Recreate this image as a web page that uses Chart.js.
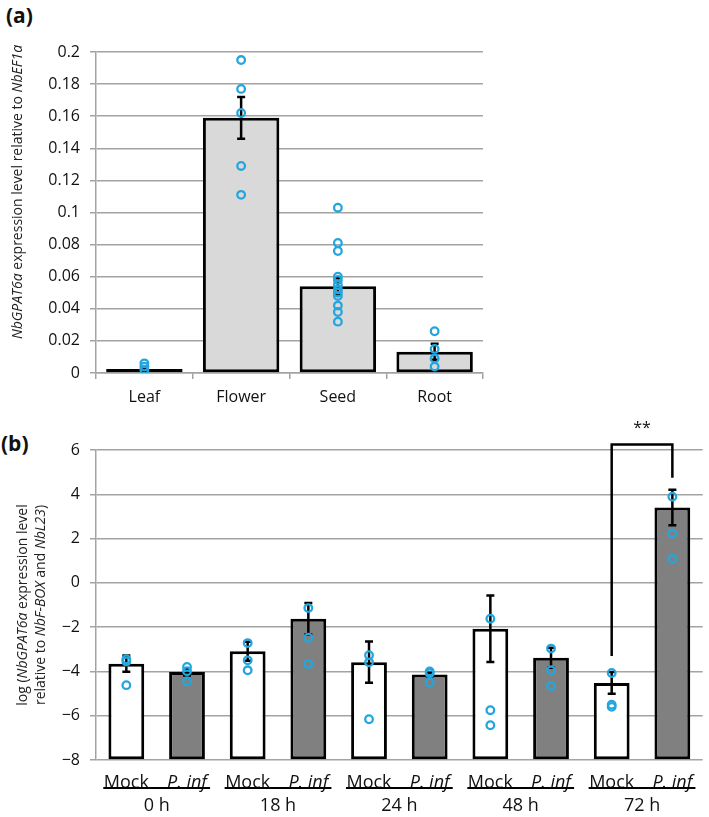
<!DOCTYPE html>
<html>
<head>
<meta charset="utf-8">
<script src="https://cdn.jsdelivr.net/npm/chart.js@4.4.1/dist/chart.umd.min.js"></script>
<style>
  body { margin: 0; background: #fff; width: 709px; height: 817px; position: relative; overflow: hidden; font-family: 'Open Sans', sans-serif; }
  #wrapA { position: absolute; left: 0; top: 0; width: 709px; height: 410px; }
  #wrapB { position: absolute; left: 0; top: 410px; width: 709px; height: 407px; }
  .panel { position: absolute; font-weight: bold; font-size: 21px; line-height: 1; color: #111; }
</style>
</head>
<body>
<div class="panel" style="left:6px;top:5px">(a)</div>
<div class="panel" style="left:1px;top:433px">(b)</div>
<div id="wrapA"><canvas id="chartA" width="709" height="410"></canvas></div>
<div id="wrapB"><canvas id="chartB" width="709" height="407"></canvas></div>
<script>
// panel (a): tissues
const tissues = ['Leaf', 'Flower', 'Seed', 'Root'];
const tissueMeans = [0.0025, 0.159, 0.054, 0.0133];
const tissueErrors = [0.001, 0.013, 0.005, 0.005];
const leafPoints = [0.006, 0.004, 0.002];
const flowerPoints = [0.195, 0.177, 0.162, 0.129, 0.111];
const seedPoints = [0.103, 0.081, 0.076, 0.060, 0.058, 0.055, 0.052, 0.050, 0.048, 0.042, 0.038, 0.032];
const rootPoints = [0.026, 0.015, 0.009, 0.004];

// panel (b): infection time course
const treatments = ['Mock', 'P. inf', 'Mock', 'P. inf', 'Mock', 'P. inf', 'Mock', 'P. inf', 'Mock', 'P. inf'];
const timepoints = ['0 h', '18 h', '24 h', '48 h', '72 h'];
const logMeans = [-3.65, -4.03, -3.09, -1.62, -3.58, -4.14, -2.07, -3.38, -4.52, 3.40];
const logErrors = [0.37, 0.15, 0.43, 0.71, 0.93, 0.08, 1.50, 0.45, 0.49, 0.80];
const logPoints = [
  [-3.45, -3.55, -4.62],
  [-3.80, -3.99, -4.45],
  [-2.72, -3.50, -3.95],
  [-1.14, -2.48, -3.67],
  [-3.27, -3.59, -6.16],
  [-4.00, -4.08, -4.50],
  [-1.62, -5.75, -6.43],
  [-2.97, -3.95, -4.66],
  [-4.07, -5.50, -5.60],
  [3.89, 2.23, 1.08]
];
const sigPair = [8, 9];            // Mock 72 h vs P. inf 72 h
const sigLevels = [-3.3, 6.25, 4.75]; // left foot, bracket top, right foot
const sigLabel = '**';

const FONT = "'Open Sans', sans-serif";
const GRID = '#a3a3a3';
const DOT = '#22a6df';
Chart.defaults.font.family = FONT;
Chart.defaults.color = '#111';

function pointSets(groups) {
  var n = Math.max.apply(null, groups.map(g => g.length));
  var sets = [];
  for (var k = 0; k < n; k++) {
    sets.push({
      type: 'line',
      data: groups.map(g => g[k] === undefined ? null : g[k]),
      showLine: false,
      pointStyle: 'circle',
      pointRadius: 3.8,
      pointBorderWidth: 2.3,
      pointBorderColor: DOT,
      pointBackgroundColor: 'rgba(0,0,0,0)',
      order: 1
    });
  }
  return sets;
}

// draws text made of plain / italic pieces, rotated like an axis title
function richText(ctx, parts, cx, cy, size) {
  ctx.save();
  ctx.translate(cx, cy);
  ctx.rotate(-Math.PI / 2);
  ctx.textBaseline = 'middle';
  ctx.fillStyle = '#222';
  var total = 0;
  parts.forEach(p => { ctx.font = (p[1] ? 'italic ' : '') + size + 'px ' + FONT; total += ctx.measureText(p[0]).width; });
  var x = -total / 2;
  parts.forEach(p => {
    ctx.font = (p[1] ? 'italic ' : '') + size + 'px ' + FONT;
    ctx.fillText(p[0], x, 0);
    x += ctx.measureText(p[0]).width;
  });
  ctx.restore();
}

const errorBars = {
  id: 'errorBars',
  afterDatasetDraw(chart, args, opts) {
    if (args.index !== 0) return;
    var y = chart.scales.y, ctx = chart.ctx;
    var values = chart.data.datasets[0].data;
    ctx.save();
    ctx.strokeStyle = '#000';
    ctx.lineWidth = 2.5;
    chart.getDatasetMeta(0).data.forEach((bar, i) => {
      var top = y.getPixelForValue(values[i] + opts.errors[i]);
      var bot = y.getPixelForValue(values[i] - opts.errors[i]);
      ctx.beginPath();
      ctx.moveTo(bar.x, top); ctx.lineTo(bar.x, bot);
      ctx.moveTo(bar.x - 4, top); ctx.lineTo(bar.x + 4, top);
      ctx.moveTo(bar.x - 4, bot); ctx.lineTo(bar.x + 4, bot);
      ctx.stroke();
    });
    ctx.restore();
  }
};

const axisTitle = {
  id: 'axisTitle',
  afterDraw(chart, args, opts) {
    opts.lines.forEach(l => richText(chart.ctx, l.parts, l.x, l.y, opts.size));
  }
};

const groupAxis = {
  id: 'groupAxis',
  afterDraw(chart, args, opts) {
    var x = chart.scales.x, ctx = chart.ctx, bottom = chart.chartArea.bottom;
    ctx.save();
    ctx.strokeStyle = '#000';
    ctx.lineWidth = 1.8;
    ctx.fillStyle = '#111';
    ctx.font = '18px ' + FONT;
    ctx.textAlign = 'center';
    ctx.textBaseline = 'middle';
    opts.groups.forEach((g, k) => {
      var a = x.getPixelForValue(2 * k), b = x.getPixelForValue(2 * k + 1);
      var step = b - a;
      ctx.beginPath();
      ctx.moveTo(a - 0.38 * step, bottom + 28);
      ctx.lineTo(b + 0.38 * step, bottom + 28);
      ctx.stroke();
      ctx.fillText(g, (a + b) / 2, bottom + 46);
    });
    ctx.restore();
  }
};

const bracket = {
  id: 'bracket',
  afterDraw(chart, args, opts) {
    var x = chart.scales.x, y = chart.scales.y, ctx = chart.ctx;
    var x1 = x.getPixelForValue(opts.pair[0]), x2 = x.getPixelForValue(opts.pair[1]);
    var yTop = y.getPixelForValue(opts.levels[1]);
    ctx.save();
    ctx.strokeStyle = '#000';
    ctx.lineWidth = 2.5;
    ctx.beginPath();
    ctx.moveTo(x1, y.getPixelForValue(opts.levels[0]));
    ctx.lineTo(x1, yTop);
    ctx.lineTo(x2, yTop);
    ctx.lineTo(x2, y.getPixelForValue(opts.levels[2]));
    ctx.stroke();
    ctx.fillStyle = '#111';
    ctx.font = '16px ' + FONT;
    ctx.textAlign = 'center';
    ctx.textBaseline = 'bottom';
    ctx.fillText(opts.label, (x1 + x2) / 2, yTop - 8);
    ctx.restore();
  }
};

new Chart(document.getElementById('chartA'), {
  type: 'bar',
  data: {
    labels: tissues,
    datasets: [{
      data: tissueMeans,
      backgroundColor: '#d9d9d9',
      borderColor: '#000',
      borderWidth: 3,
      borderSkipped: false,
      categoryPercentage: 1,
      barPercentage: 0.79,
      order: 2
    }].concat(pointSets([leafPoints, flowerPoints, seedPoints, rootPoints]))
  },
  options: {
    responsive: false,
    animation: false,
    layout: { padding: { left: 0, right: 226, top: 52, bottom: 0 } },
    plugins: {
      legend: { display: false },
      tooltip: { enabled: false },
      errorBars: { errors: tissueErrors },
      axisTitle: {
        size: 14,
        lines: [{ x: 18, y: 192, parts: [['NbGPAT6a', true], [' expression level relative to ', false], ['NbEF1a', true]] }]
      }
    },
    scales: {
      x: {
        offset: true,
        afterFit: s => { s.height = 37; },
        grid: { offset: true, drawOnChartArea: false, tickLength: 6, color: GRID, lineWidth: 1.5 },
        border: { color: GRID, width: 1.5 },
        ticks: { font: { size: 16 }, padding: 9, color: '#111' }
      },
      y: {
        min: 0, max: 0.2,
        afterFit: s => { s.width = 96; },
        grid: { color: GRID, lineWidth: 1.5, tickLength: 6 },
        border: { color: GRID, width: 1.5 },
        ticks: { stepSize: 0.02, font: { size: 16 }, padding: 10, color: '#111', callback: v => String(+v.toFixed(2)) }
      }
    }
  },
  plugins: [errorBars, axisTitle]
});

new Chart(document.getElementById('chartB'), {
  type: 'bar',
  data: {
    labels: treatments,
    datasets: [{
      data: logMeans,
      backgroundColor: treatments.map(t => t === 'Mock' ? '#ffffff' : '#808080'),
      borderColor: '#000',
      borderWidth: 3,
      borderSkipped: false,
      categoryPercentage: 1,
      barPercentage: 0.59,
      base: -8,
      order: 2
    }].concat(pointSets(logPoints))
  },
  options: {
    responsive: false,
    animation: false,
    layout: { padding: { left: 0, right: 2, top: 40, bottom: 0 } },
    plugins: {
      legend: { display: false },
      tooltip: { enabled: false },
      errorBars: { errors: logErrors },
      groupAxis: { groups: timepoints },
      bracket: { pair: sigPair, levels: sigLevels, label: sigLabel },
      axisTitle: {
        size: 14,
        lines: [
          { x: 23, y: 195, parts: [['log (', false], ['NbGPAT6a', true], [' expression level', false]] },
          { x: 41, y: 195, parts: [['relative to ', false], ['NbF-BOX', true], [' and ', false], ['NbL23', true], [')', false]] }
        ]
      }
    },
    scales: {
      x: {
        offset: true,
        afterFit: s => { s.height = 57; },
        grid: { display: false },
        border: { display: false },
        ticks: {
          padding: 4,
          color: '#111',
          font: c => ({ family: FONT, size: 18, style: c.index % 2 ? 'italic' : 'normal' })
        }
      },
      y: {
        min: -8, max: 6,
        afterFit: s => { s.width = 96; },
        grid: { color: GRID, lineWidth: 1.5, tickLength: 6 },
        border: { color: GRID, width: 1.5 },
        ticks: { stepSize: 2, font: { size: 16 }, padding: 10, color: '#111', callback: v => v < 0 ? '\u2212' + Math.abs(v) : String(v) }
      }
    }
  },
  plugins: [errorBars, groupAxis, bracket, axisTitle]
});
</script>
</body>
</html>
